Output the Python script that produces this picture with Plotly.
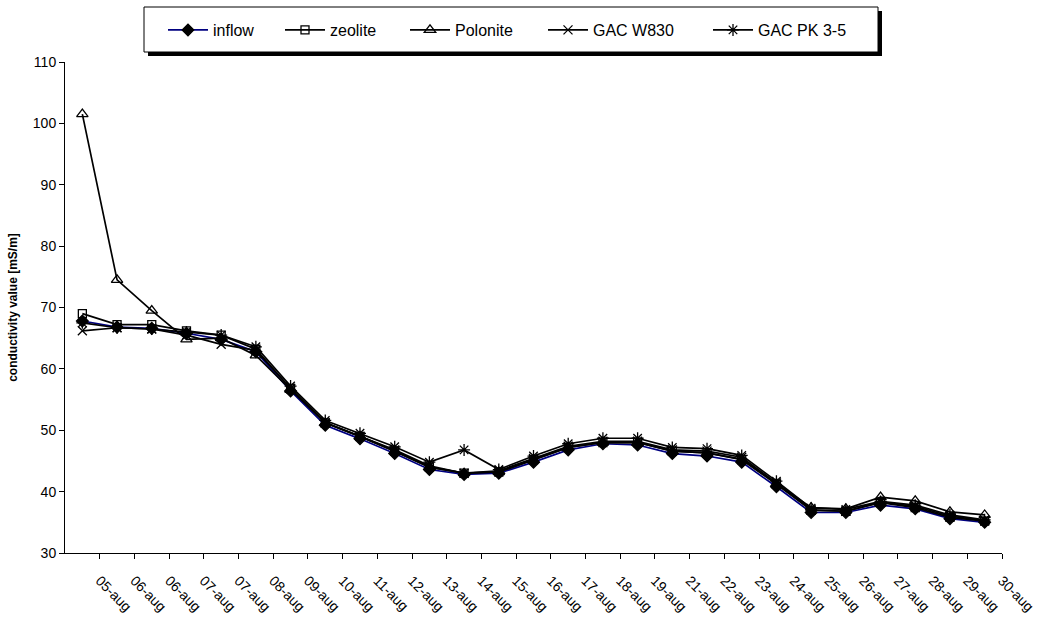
import plotly.graph_objects as go

# Sampling dates (two samples were taken on 06-aug and 07-aug)
dates = ["05-aug", "06-aug", "06-aug", "07-aug", "07-aug", "08-aug", "09-aug",
         "10-aug", "11-aug", "12-aug", "13-aug", "14-aug", "15-aug", "16-aug",
         "17-aug", "18-aug", "19-aug", "21-aug", "22-aug", "23-aug", "24-aug",
         "25-aug", "26-aug", "27-aug", "28-aug", "29-aug", "30-aug"]

# Conductivity values [mS/m]
inflow = [67.8, 66.8, 66.6, 65.8, 64.8, 62.8, 56.4, 50.8, 48.6, 46.2, 43.6, 42.8, 43.0, 44.8,
          46.8, 47.8, 47.6, 46.2, 45.8, 44.8, 40.8, 36.6, 36.6, 37.8, 37.2, 35.6, 35.0]
zeolite = [69.0, 67.2, 67.2, 66.2, 65.5, 63.2, 56.8, 51.2, 49.0, 46.6, 44.0, 43.0, 43.2, 45.2,
           47.2, 48.0, 48.0, 46.6, 46.3, 45.2, 41.2, 37.0, 36.8, 38.2, 37.4, 35.8, 35.2]
polonite = [101.5, 74.5, 69.5, 64.8, 65.0, 62.2, 56.6, 51.2, 49.0, 46.6, 44.0, 43.0, 43.2, 45.2,
            47.2, 48.0, 48.0, 46.6, 46.3, 45.3, 41.3, 37.4, 37.2, 39.1, 38.5, 36.7, 36.2]
gac_w830 = [66.2, 66.7, 66.5, 65.5, 64.0, 63.0, 56.8, 51.2, 49.0, 46.8, 44.2, 43.0, 43.4, 45.4,
            47.4, 48.2, 48.2, 46.8, 46.6, 45.6, 41.4, 37.0, 36.8, 38.3, 37.6, 36.0, 35.3]
gac_pk35 = [67.5, 66.7, 66.5, 66.0, 65.5, 63.6, 57.2, 51.6, 49.5, 47.3, 44.8, 46.8, 43.6, 45.8,
            47.8, 48.7, 48.7, 47.2, 47.0, 45.9, 41.7, 37.3, 37.1, 38.4, 37.8, 36.2, 35.4]

y_ticks = [30, 40, 50, 60, 70, 80, 90, 100, 110]

idx = list(range(len(dates)))

W, H = 1037, 628
M_L, M_R, M_T, M_B = 65, 35, 62, 75
PLOT_W, PLOT_H = W - M_L - M_R, H - M_T - M_B


def px_x(px):
    """pixel column -> paper x"""
    return (px - M_L) / PLOT_W


def px_y(py):
    """pixel row -> paper y"""
    return (H - M_B - py) / PLOT_H


# name, values, marker symbol, marker size, line colour, legend entry left edge (px)
series = [
    ("inflow", inflow, "diamond", 9, "#000080", 163),
    ("zeolite", zeolite, "square-open", 8, "black", 280),
    ("Polonite", polonite, "triangle-up-open", 10, "black", 405),
    ("GAC W830", gac_w830, "x-thin-open", 9, "black", 543),
    ("GAC PK 3-5", gac_pk35, "asterisk-open", 10, "black", 708),
]

font = "Arial, Liberation Sans, sans-serif"

fig = go.Figure()
legend_layouts = {}
for k, (name, vals, sym, msize, lcol, lx) in enumerate(series):
    legend_id = "legend" if k == 0 else f"legend{k + 1}"
    fig.add_trace(go.Scatter(
        x=idx, y=vals, name=name, mode="lines+markers", legend=legend_id,
        line=dict(color=lcol, width=1.7),
        marker=dict(symbol=sym, size=msize, color="black",
                    line=dict(color="black", width=1.3)),
    ))
    legend_layouts[legend_id] = dict(
        orientation="h", xref="container", yref="container",
        x=lx / W, y=1 - 30 / H, xanchor="left", yanchor="middle",
        borderwidth=0, bgcolor="rgba(0,0,0,0)",
        font=dict(family=font, size=16, color="black"),
        itemwidth=40,
    )

# legend frame with a drop shadow
box_l, box_t, box_r, box_b, off = 144, 7, 878, 52, 4
fig.add_shape(type="rect", xref="paper", yref="paper",
              x0=px_x(box_l + off), x1=px_x(box_r + off),
              y0=px_y(box_b + off), y1=px_y(box_t + off),
              fillcolor="black", line=dict(width=0), layer="above")
fig.add_shape(type="rect", xref="paper", yref="paper",
              x0=px_x(box_l), x1=px_x(box_r), y0=px_y(box_b), y1=px_y(box_t),
              fillcolor="white", line=dict(color="black", width=1), layer="above")

fig.update_layout(
    width=W, height=H,
    margin=dict(l=M_L, r=M_R, t=M_T, b=M_B, autoexpand=False),
    paper_bgcolor="white", plot_bgcolor="white",
    font=dict(family=font, size=14, color="black"),
    showlegend=True,
    xaxis=dict(
        range=[-0.5, len(dates) - 0.5],
        tickmode="array",
        # ticks sit on the category boundaries; labels are shifted back to the centres
        tickvals=[i + 0.5 for i in idx],
        ticktext=dates,
        ticklabelshift=0,
        ticklabelstandoff=8,
        ticklabeloverflow="allow",
        tickangle=45,
        ticks="outside", ticklen=5, tickcolor="black", tickwidth=1,
        showline=True, linecolor="black", linewidth=1,
        showgrid=False, zeroline=False,
        tickfont=dict(family=font, size=14),
    ),
    yaxis=dict(
        range=[30, 110],
        tickmode="array", tickvals=y_ticks,
        ticks="outside", ticklen=5, tickcolor="black", tickwidth=1,
        showline=True, linecolor="black", linewidth=1,
        showgrid=False, zeroline=False,
        tickfont=dict(family=font, size=14),
        title=dict(text="<b>conductivity value [mS/m]</b>",
                   font=dict(family=font, size=12), standoff=12),
    ),
    **legend_layouts,
)

fig.write_html("out.html")
